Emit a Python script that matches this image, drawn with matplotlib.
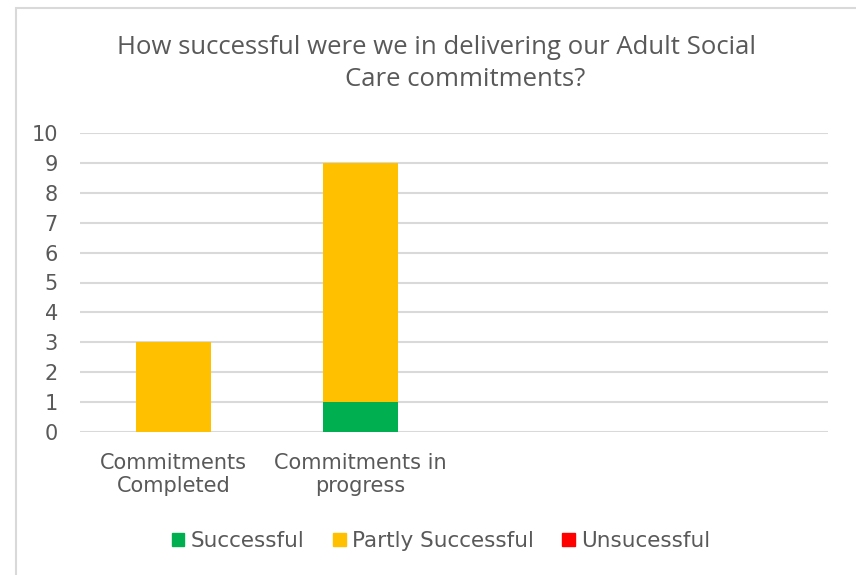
import matplotlib.pyplot as plt
from matplotlib.patches import Rectangle
import numpy as np

categories = ['Commitments\nCompleted', 'Commitments in\nprogress', '', '']
successful = [0, 1, 0, 0]
partly = [3, 8, 0, 0]
unsuccessful = [0, 0, 0, 0]
series_names = ['Successful', 'Partly Successful', 'Unsucessful']
colors = ['#00B050', '#FFC000', '#FF0000']
yticks = list(range(0, 11))
title_lines = ['How successful were we in delivering our Adult Social', 'Care commitments?']

txt = '#595959'
plt.rcParams['font.family'] = ['DejaVu Sans']

fig = plt.figure(figsize=(8.56, 5.75), dpi=100)
ax = fig.add_axes([80 / 856, 1 - 432 / 575, 748 / 856, 299 / 575])

x = np.arange(len(categories))
w = 0.4
b1 = np.array(successful)
b2 = b1 + np.array(partly)
ax.bar(x, successful, w, color=colors[0], label=series_names[0], zorder=3)
ax.bar(x, partly, w, bottom=b1, color=colors[1], label=series_names[1], zorder=3)
ax.bar(x, unsuccessful, w, bottom=b2, color=colors[2], label=series_names[2], zorder=3)

ax.set_xlim(-0.5, len(categories) - 0.5)
ax.set_ylim(0, 10)
ax.set_yticks(yticks)
ax.set_xticks(x)
ax.set_xticklabels(categories, fontsize=15, color=txt, linespacing=1.2)
ax.tick_params(axis='y', labelsize=15, labelcolor=txt, length=0, pad=16)
ax.tick_params(axis='x', length=0, pad=15)
ax.grid(axis='y', color='#D9D9D9', linewidth=1.5, zorder=0)
for s in ax.spines.values():
    s.set_visible(False)

# title is wrapped like in Excel, second line sits a bit to the right
fig.text(437 / 856, 1 - 47 / 575, title_lines[0], ha='center', va='center',
         fontsize=18.5, color=txt, family='Open Sans')
fig.text(465 / 856, 1 - 79 / 575, title_lines[1], ha='center', va='center',
         fontsize=18.5, color=txt, family='Open Sans')

handles = [plt.Rectangle((0, 0), 1, 1, color=c) for c in colors]
fig.legend(handles, series_names, loc='center', bbox_to_anchor=(441 / 856, 1 - 541 / 575), ncol=3,
           frameon=False, fontsize=15.5, labelcolor=txt, handlelength=0.6, handleheight=0.6,
           handletextpad=0.3, columnspacing=1.3)

fig.patches.append(Rectangle((16 / 856, -0.1), 1.2, 1 - 8 / 575 + 0.1, transform=fig.transFigure,
                             fill=False, edgecolor='#D9D9D9', linewidth=1.5, zorder=0))

fig.savefig('out.png', dpi=100)
